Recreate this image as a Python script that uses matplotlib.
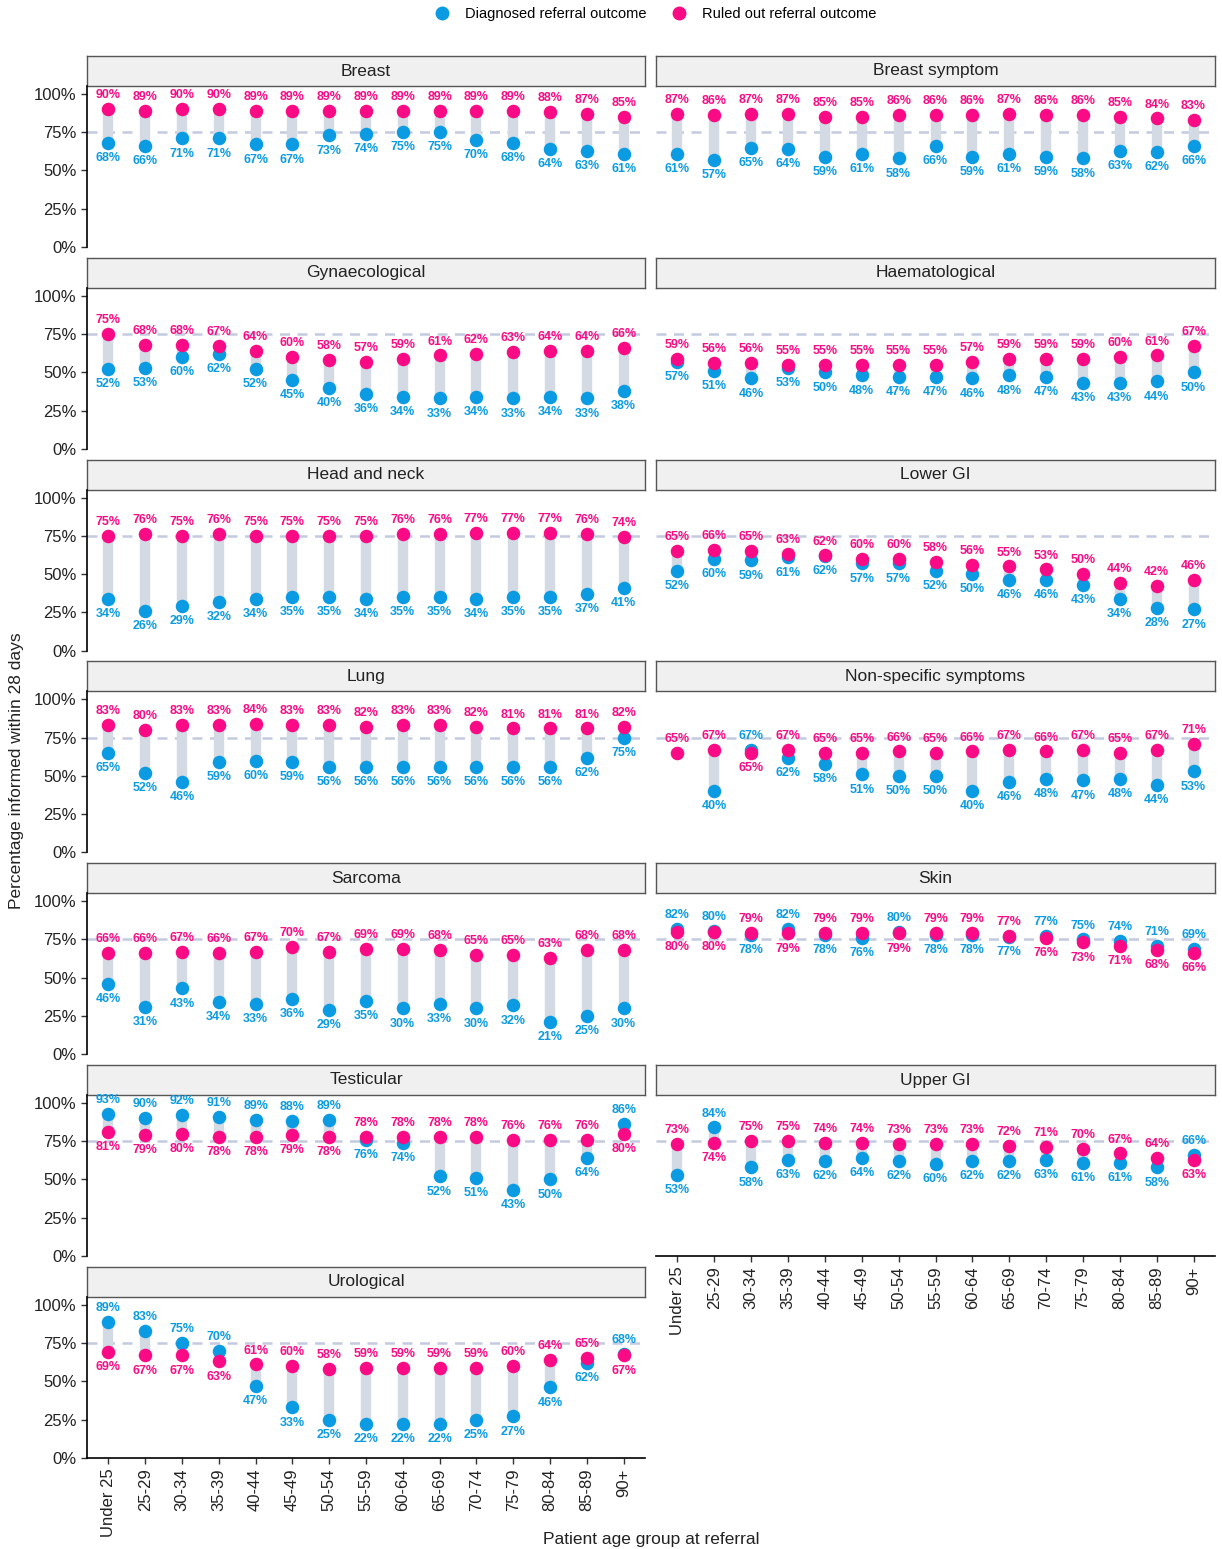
import numpy as np
import matplotlib
matplotlib.use("Agg")
import matplotlib.pyplot as plt
from matplotlib.lines import Line2D

plt.rcParams["font.family"] = ["Liberation Sans", "DejaVu Sans"]

ages = ["Under 25", "25-29", "30-34", "35-39", "40-44", "45-49", "50-54", "55-59",
        "60-64", "65-69", "70-74", "75-79", "80-84", "85-89", "90+"]

panels = ["Breast", "Breast symptom", "Gynaecological", "Haematological",
          "Head and neck", "Lower GI", "Lung", "Non-specific symptoms",
          "Sarcoma", "Skin", "Testicular", "Upper GI", "Urological"]

# % informed within 28 days, diagnosed (dx) and ruled out (ro)
breast_dx = [68, 66, 71, 71, 67, 67, 73, 74, 75, 75, 70, 68, 64, 63, 61]
breast_ro = [90, 89, 90, 90, 89, 89, 89, 89, 89, 89, 89, 89, 88, 87, 85]
breast_sym_dx = [61, 57, 65, 64, 59, 61, 58, 66, 59, 61, 59, 58, 63, 62, 66]
breast_sym_ro = [87, 86, 87, 87, 85, 85, 86, 86, 86, 87, 86, 86, 85, 84, 83]
gynae_dx = [52, 53, 60, 62, 52, 45, 40, 36, 34, 33, 34, 33, 34, 33, 38]
gynae_ro = [75, 68, 68, 67, 64, 60, 58, 57, 59, 61, 62, 63, 64, 64, 66]
haem_dx = [57, 51, 46, 53, 50, 48, 47, 47, 46, 48, 47, 43, 43, 44, 50]
haem_ro = [59, 56, 56, 55, 55, 55, 55, 55, 57, 59, 59, 59, 60, 61, 67]
headneck_dx = [34, 26, 29, 32, 34, 35, 35, 34, 35, 35, 34, 35, 35, 37, 41]
headneck_ro = [75, 76, 75, 76, 75, 75, 75, 75, 76, 76, 77, 77, 77, 76, 74]
lowergi_dx = [52, 60, 59, 61, 61.8, 57, 57, 52, 50, 46, 46, 43, 34, 28, 27]
lowergi_ro = [65, 66, 65, 63, 62.2, 60, 60, 58, 56, 55, 53, 50, 44, 42, 46]
lung_dx = [65, 52, 46, 59, 60, 59, 56, 56, 56, 56, 56, 56, 56, 62, 75]
lung_ro = [83, 80, 83, 83, 84, 83, 83, 82, 83, 83, 82, 81, 81, 81, 82]
nonspec_dx = [np.nan, 40, 67, 62, 58, 51, 50, 50, 40, 46, 48, 47, 48, 44, 53]
nonspec_ro = [65, 67, 65, 67, 65, 65, 66, 65, 66, 67, 66, 67, 65, 67, 71]
sarcoma_dx = [46, 31, 43, 34, 33, 36, 29, 35, 30, 33, 30, 32, 21, 25, 30]
sarcoma_ro = [66, 66, 67, 66, 67, 70, 67, 69, 69, 68, 65, 65, 63, 68, 68]
skin_dx = [82, 80.4, 78, 82, 78, 76, 80, 78, 78, 76.8, 77, 75, 74, 71, 69]
skin_ro = [80, 80.0, 79, 79, 79, 79, 79, 79, 79, 77.3, 76, 73, 71, 68, 66]
testic_dx = [93, 90, 92, 91, 89, 88, 89, 76, 74, 52, 51, 43, 50, 64, 86]
testic_ro = [81, 79, 80, 78, 78, 79, 78, 78, 78, 78, 78, 76, 76, 76, 80]
uppergi_dx = [53, 84, 58, 63, 62, 64, 62, 60, 62, 62, 63, 61, 61, 58, 66]
uppergi_ro = [73, 74, 75, 75, 74, 74, 73, 73, 73, 72, 71, 70, 67, 64, 63]
uro_dx = [89, 83, 75, 70, 47, 33, 25, 22, 22, 22, 25, 27, 46, 62, 68]
uro_ro = [69, 67, 67, 63, 61, 60, 58, 59, 59, 59, 59, 60, 64, 65, 67]

dx_series = [breast_dx, breast_sym_dx, gynae_dx, haem_dx, headneck_dx, lowergi_dx,
             lung_dx, nonspec_dx, sarcoma_dx, skin_dx, testic_dx, uppergi_dx, uro_dx]
ro_series = [breast_ro, breast_sym_ro, gynae_ro, haem_ro, headneck_ro, lowergi_ro,
             lung_ro, nonspec_ro, sarcoma_ro, skin_ro, testic_ro, uppergi_ro, uro_ro]

BLUE = "#0a9be3"
PINK = "#fa0a84"
SEG = "#d3dae4"
REF = "#c4cbe0"

W, H = 1222, 1549
fig = plt.figure(figsize=(W / 100, H / 100), dpi=100)


def px_rect(x0, y0, x1, y1):
    return [x0 / W, 1 - y1 / H, (x1 - x0) / W, (y1 - y0) / H]


cols = [(87, 645), (656, 1215)]
x = np.arange(len(ages))

for i, name in enumerate(panels):
    row, col = divmod(i, 2)
    cx0, cx1 = cols[col]
    top = 56 + row * 201.8

    # strip first so the panel (and its labels) sits on top of it
    strip = fig.add_axes(px_rect(cx0, top, cx1, top + 30))
    strip.set_xticks([])
    strip.set_yticks([])
    strip.set_facecolor("#f0f0f0")
    for s in strip.spines.values():
        s.set_color("#555555")
        s.set_linewidth(1.0)
    strip.text(0.5, 0.5, name, ha="center", va="center", fontsize=12.5, color="#222222")

    ax = fig.add_axes(px_rect(cx0, top + 30, cx1, top + 191))

    dx = np.array(dx_series[i], dtype=float) / 100
    ro = np.array(ro_series[i], dtype=float) / 100

    ax.axhline(0.75, color=REF, lw=1.8, ls=(0, (4, 3)), zorder=1)
    ax.vlines(x, dx, ro, color=SEG, lw=7.5, zorder=2)
    ax.scatter(x, dx, s=95, color=BLUE, zorder=3, linewidths=0, clip_on=False)
    ax.scatter(x, ro, s=95, color=PINK, zorder=4, linewidths=0, clip_on=False)

    for xi, d, r in zip(x, dx, ro):
        for v, c in [(d, BLUE), (r, PINK)]:
            if np.isnan(v):
                continue
            other = r if c == BLUE else d
            above = np.isnan(other) or v > other
            off = 10 if above else -11
            ax.annotate(f"{round(v * 100):.0f}%", (xi, v), xytext=(0, off),
                        textcoords="offset points", ha="center", va="center",
                        fontsize=9, fontweight="bold", color=c, zorder=5,
                        annotation_clip=False)

    ax.set_xlim(-0.58, 14.58)
    ax.set_ylim(0, 1.052)
    ax.set_yticks([0, 0.25, 0.5, 0.75, 1.0])
    ax.spines["top"].set_visible(False)
    ax.spines["right"].set_visible(False)
    ax.patch.set_alpha(0)

    last = (col == 0 and i == 12) or (col == 1 and i == 11)
    if last:
        ax.set_xticks(x)
        ax.set_xticklabels(ages, rotation=90, fontsize=12, color="#222222")
        ax.spines["bottom"].set_linewidth(1.2)
    else:
        ax.set_xticks([])
        ax.spines["bottom"].set_visible(False)

    if col == 0:
        ax.set_yticklabels(["0%", "25%", "50%", "75%", "100%"], fontsize=12, color="#222222")
        ax.spines["left"].set_linewidth(1.2)
    else:
        ax.set_yticks([])
        ax.spines["left"].set_visible(False)
    ax.tick_params(length=4, width=1, color="#333333")

fig.text(17 / W, 1 - 771 / H, "Percentage informed within 28 days", rotation=90,
         ha="center", va="center", fontsize=12.5, color="#222222")
fig.text(651 / W, 1 - 1547 / H, "Patient age group at referral", ha="center", va="bottom",
         fontsize=12.5, color="#222222")

handles = [Line2D([], [], marker="o", ls="", color=BLUE, markersize=9),
           Line2D([], [], marker="o", ls="", color=PINK, markersize=9)]
fig.legend(handles, ["Diagnosed referral outcome", "Ruled out referral outcome"],
           loc="center", bbox_to_anchor=(652 / W, 1 - 14 / H), ncol=2, frameon=False,
           fontsize=10.5, handletextpad=0.6, columnspacing=1.2)

fig.savefig("out.png", dpi=100)
